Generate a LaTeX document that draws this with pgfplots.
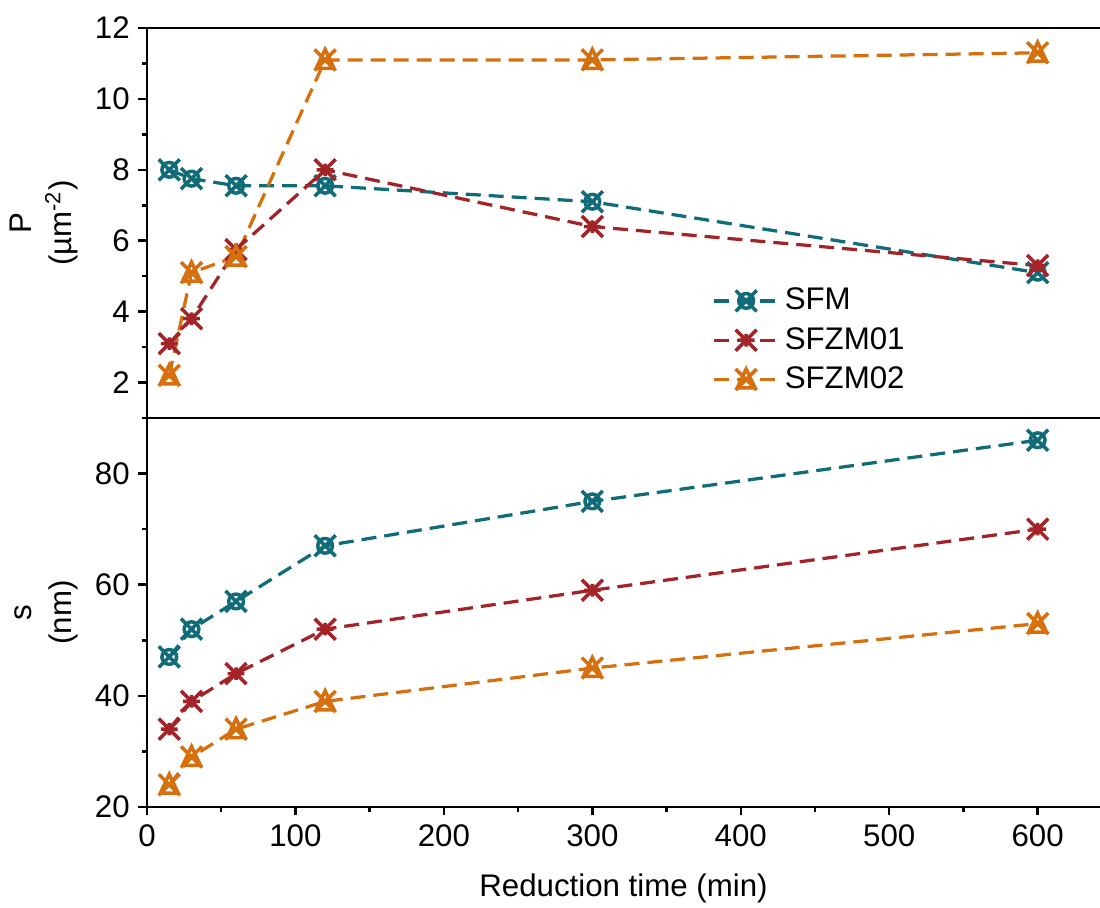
\documentclass[border=0pt]{standalone}
\usepackage{fontspec}
\setmainfont{Liberation Sans}
\usepackage{pgfplots}
\pgfplotsset{compat=1.18}

\definecolor{cA}{RGB}{16,108,120}
\definecolor{cB}{RGB}{163,36,40}
\definecolor{cC}{RGB}{214,112,14}

\pgfdeclareplotmark{sfm}{%
  \pgfpathcircle{\pgfpointorigin}{0.7\pgfplotmarksize}%
  \pgfpathmoveto{\pgfpoint{-\pgfplotmarksize}{-\pgfplotmarksize}}%
  \pgfpathlineto{\pgfpoint{\pgfplotmarksize}{\pgfplotmarksize}}%
  \pgfpathmoveto{\pgfpoint{-\pgfplotmarksize}{\pgfplotmarksize}}%
  \pgfpathlineto{\pgfpoint{\pgfplotmarksize}{-\pgfplotmarksize}}%
  \pgfusepathqstroke}
\pgfdeclareplotmark{sfzmone}{%
  \pgfpathmoveto{\pgfpoint{-\pgfplotmarksize}{-\pgfplotmarksize}}%
  \pgfpathlineto{\pgfpoint{\pgfplotmarksize}{\pgfplotmarksize}}%
  \pgfpathmoveto{\pgfpoint{-\pgfplotmarksize}{\pgfplotmarksize}}%
  \pgfpathlineto{\pgfpoint{\pgfplotmarksize}{-\pgfplotmarksize}}%
  \pgfpathmoveto{\pgfpoint{-0.8\pgfplotmarksize}{0pt}}%
  \pgfpathlineto{\pgfpoint{0.8\pgfplotmarksize}{0pt}}%
  \pgfpathmoveto{\pgfpoint{0pt}{-0.6\pgfplotmarksize}}%
  \pgfpathlineto{\pgfpoint{0pt}{0.6\pgfplotmarksize}}%
  \pgfusepathqstroke}
\pgfdeclareplotmark{sfzmtwo}{%
  \pgfpathmoveto{\pgfpoint{-\pgfplotmarksize}{-\pgfplotmarksize}}%
  \pgfpathlineto{\pgfpoint{\pgfplotmarksize}{\pgfplotmarksize}}%
  \pgfpathmoveto{\pgfpoint{-\pgfplotmarksize}{\pgfplotmarksize}}%
  \pgfpathlineto{\pgfpoint{\pgfplotmarksize}{-\pgfplotmarksize}}%
  \pgfpathmoveto{\pgfpoint{0pt}{\pgfplotmarksize}}%
  \pgfpathlineto{\pgfpoint{0.85\pgfplotmarksize}{-0.8\pgfplotmarksize}}%
  \pgfpathlineto{\pgfpoint{-0.85\pgfplotmarksize}{-0.8\pgfplotmarksize}}%
  \pgfpathclose
  \pgfusepathqstroke}

\pgfplotsset{
  every axis/.append style={font=\fontsize{12.5}{15}\selectfont},
  myaxis/.style={
    scale only axis, width=381.2pt,
    xmin=0, xmax=642,
    axis x line=box, axis y line=left,
    axis line style={-, line width=1.1pt},
    tick align=outside,
    major tick length=3.4pt, minor tick length=2pt,
    every tick/.style={line width=1pt, black},
    /pgf/number format/assume math mode=true,
    ylabel style={align=center, font=\fontsize{12.5}{16}\selectfont},
    xlabel style={yshift=-4pt},
    legend cell align=left,
    legend style={draw=none, fill=none, row sep=1.5pt},
    legend image code/.code={%
      \draw[mark repeat=2,mark phase=2] plot coordinates {(0cm,0cm) (0.45cm,0cm) (0.9cm,0cm)};},
  },
  ser/.style={line width=1.3pt, dash pattern=on 6pt off 3.2pt, mark size=4.2pt,
    mark options={solid, line width=1.4pt}},
}

\begin{document}
\begin{tikzpicture}
\begin{axis}[myaxis, name=top, at={(0,0)}, anchor=south west,
  height=156pt, ymin=1, ymax=12,
  xtick=\empty,
  ytick={2,4,6,8,10,12}, minor ytick={3,5,7,9,11},
  ylabel={P\\(µm\textsuperscript{-2})},
  legend style={at={(0.585,0.36)}, anchor=north west},
]
\addplot[ser, color=cA, mark=sfm] coordinates {(15,8.0) (30,7.75) (60,7.55) (120,7.55) (300,7.1) (600,5.1)};
\addlegendentry{SFM}
\addplot[ser, color=cB, mark=sfzmone] coordinates {(15,3.1) (30,3.8) (60,5.75) (120,8.0) (300,6.4) (600,5.3)};
\addlegendentry{SFZM01}
\addplot[ser, color=cC, mark=sfzmtwo] coordinates {(15,2.2) (30,5.1) (60,5.55) (120,11.1) (300,11.1) (600,11.3)};
\addlegendentry{SFZM02}
\end{axis}
\begin{axis}[myaxis, name=bot, at={(top.south west)}, anchor=north west,
  height=155.6pt, ymin=20, ymax=90,
  xtick={0,100,...,600}, minor xtick={50,150,...,650},
  ytick={20,40,60,80}, minor ytick={30,50,70,90},
  xtick pos=bottom,
  xlabel={Reduction time (min)},
  ylabel={s\\(nm)},
]
\addplot[ser, color=cA, mark=sfm] coordinates {(15,47) (30,52) (60,57) (120,67) (300,75) (600,86)};
\addplot[ser, color=cB, mark=sfzmone] coordinates {(15,34) (30,39) (60,44) (120,52) (300,59) (600,70)};
\addplot[ser, color=cC, mark=sfzmtwo] coordinates {(15,24) (30,29) (60,34) (120,39) (300,45) (600,53)};
\end{axis}
\pgfresetboundingbox
\path ([shift={(-58.8pt,11.2pt)}]top.north west) rectangle ([shift={(0pt,-40.4pt)}]bot.south east);
\end{tikzpicture}
\end{document}
